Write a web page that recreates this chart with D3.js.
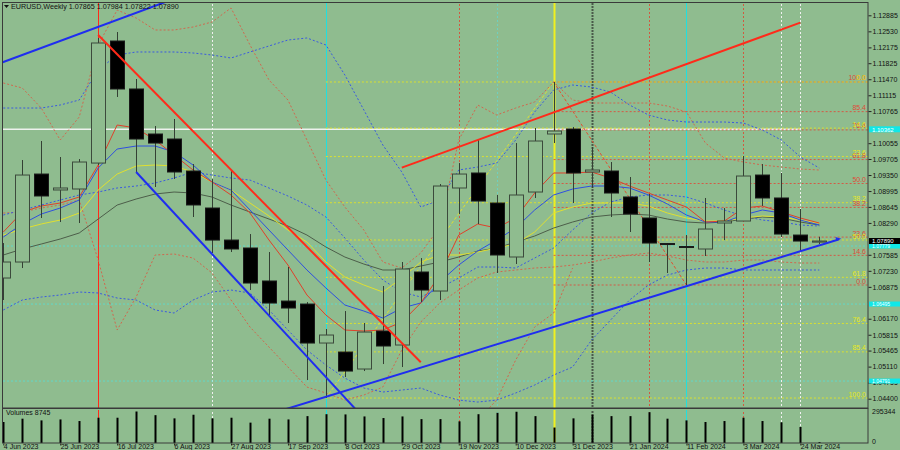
<!DOCTYPE html>
<html><head><meta charset="utf-8">
<script src="https://cdn.jsdelivr.net/npm/d3@7"></script>
<style>body{margin:0;background:#8fbc8f}svg{display:block}text{font-family:"Liberation Sans",Arial,sans-serif}</style>
</head><body><svg id="c" width="900" height="450"></svg>
<script>
const dates=["4 Jun 2023","11 Jun 2023","18 Jun 2023","25 Jun 2023","2 Jul 2023","9 Jul 2023","16 Jul 2023","23 Jul 2023","30 Jul 2023","6 Aug 2023","13 Aug 2023","20 Aug 2023","27 Aug 2023","3 Sep 2023","10 Sep 2023","17 Sep 2023","24 Sep 2023","1 Oct 2023","8 Oct 2023","15 Oct 2023","22 Oct 2023","29 Oct 2023","5 Nov 2023","12 Nov 2023","19 Nov 2023","26 Nov 2023","3 Dec 2023","10 Dec 2023","17 Dec 2023","24 Dec 2023","31 Dec 2023","7 Jan 2024","14 Jan 2024","21 Jan 2024","28 Jan 2024","4 Feb 2024","11 Feb 2024","18 Feb 2024","25 Feb 2024","3 Mar 2024","10 Mar 2024","17 Mar 2024","24 Mar 2024","31 Mar 2024"];
const opens=[1.07071,1.07425,1.09372,1.09019,1.09041,1.09615,1.12316,1.11254,1.10258,1.10147,1.09439,1.08620,1.07911,1.07735,1.07005,1.06561,1.06495,1.05632,1.05433,1.05057,1.05898,1.05588,1.07204,1.06783,1.09063,1.09395,1.08731,1.07536,1.08974,1.10258,1.10369,1.09417,1.09439,1.08864,1.08399,1.07834,1.07768,1.07713,1.08288,1.08332,1.09350,1.08842,1.08022,1.07865];
const highs=[1.07845,1.09682,1.10103,1.09749,1.09704,1.12383,1.12515,1.11475,1.10435,1.10590,1.09593,1.09262,1.09439,1.08044,1.07646,1.07314,1.06539,1.05942,1.06340,1.06075,1.06894,1.07425,1.07513,1.09151,1.09615,1.10147,1.08908,1.10058,1.10391,1.11409,1.10413,1.09970,1.09638,1.09306,1.08930,1.07845,1.08022,1.08842,1.08620,1.09771,1.09593,1.09395,1.08598,1.07984];
const lows=[1.06584,1.07292,1.08399,1.08310,1.08288,1.09572,1.11077,1.09417,1.09085,1.09262,1.08421,1.07624,1.07646,1.06805,1.06252,1.06075,1.04813,1.04415,1.04880,1.05012,1.05167,1.05101,1.06539,1.06584,1.08487,1.08266,1.07182,1.07381,1.08842,1.10058,1.08731,1.09063,1.08421,1.08089,1.07425,1.07182,1.06916,1.07558,1.07911,1.08332,1.08665,1.07978,1.07646,1.07822];
const closes=[1.07425,1.09350,1.08886,1.09063,1.09638,1.12272,1.11254,1.10147,1.10058,1.09417,1.08687,1.07911,1.07713,1.06960,1.06517,1.06407,1.05632,1.05809,1.05012,1.05875,1.05566,1.07270,1.06805,1.09107,1.09372,1.08775,1.07580,1.08908,1.10103,1.10324,1.09395,1.09461,1.08952,1.08487,1.07845,1.07812,1.07757,1.08155,1.08332,1.09328,1.08842,1.08044,1.07889,1.07890];
const volumes=[197000,228000,212000,221000,206000,237000,237000,295344,261000,231000,265000,231000,237000,191000,228000,221000,252000,270000,268000,249000,234000,249000,224000,224000,203000,270000,283000,293000,252000,145000,231000,265000,252000,252000,289000,228000,212000,197000,206000,237000,206000,194000,150000,8745];
// indicator series
const maSlow=[1.07580,1.07712,1.07823,1.07934,1.08067,1.08376,1.08686,1.08819,1.08930,1.08974,1.08952,1.08863,1.08686,1.08531,1.08376,1.08221,1.08022,1.07757,1.07535,1.07380,1.07248,1.07248,1.07336,1.07425,1.07535,1.07668,1.07735,1.07867,1.08000,1.08177,1.08310,1.08421,1.08465,1.08487,1.08465,1.08376,1.08310,1.08288,1.08310,1.08376,1.08421,1.08398,1.08310,1.08244];
const maBlue=[1.07978,1.08266,1.08487,1.08620,1.08797,1.09505,1.09926,1.09992,1.09992,1.09859,1.09572,1.09195,1.09018,1.08576,1.08133,1.07690,1.07248,1.06850,1.06473,1.06340,1.06186,1.06406,1.06518,1.06982,1.07358,1.07668,1.07912,1.08177,1.08576,1.08908,1.09040,1.09107,1.09107,1.09063,1.08908,1.08708,1.08465,1.08310,1.08310,1.08465,1.08576,1.08509,1.08354,1.08244];
const maYellow=[1.08022,1.08155,1.08266,1.08354,1.08509,1.09018,1.09372,1.09549,1.09572,1.09549,1.09417,1.09195,1.09018,1.08731,1.08443,1.08133,1.07867,1.07425,1.07093,1.06916,1.06761,1.07071,1.07425,1.07580,1.07580,1.07646,1.07735,1.07823,1.08089,1.08509,1.08642,1.08731,1.08731,1.08731,1.08664,1.08509,1.08399,1.08332,1.08332,1.08399,1.08443,1.08421,1.08354,1.08288];
const maRed=[1.08089,1.08531,1.08664,1.08731,1.08864,1.09572,1.10457,1.10391,1.10125,1.09793,1.09461,1.09195,1.08908,1.08509,1.07912,1.07358,1.06695,1.06252,1.05920,1.05898,1.05920,1.06097,1.06518,1.07137,1.08022,1.08266,1.08177,1.08399,1.08952,1.09395,1.09395,1.09417,1.09284,1.09107,1.08952,1.08797,1.08642,1.08310,1.08332,1.08620,1.08664,1.08531,1.08399,1.08288];
const bandBlueUp=[1.10833,1.10833,1.10833,1.10900,1.11010,1.11674,1.12006,1.12073,1.12073,1.12073,1.12051,1.12006,1.11940,1.12073,1.12206,1.12338,1.12383,1.12228,1.11564,1.10789,1.10014,1.09417,1.08642,1.08797,1.09461,1.09527,1.09616,1.10125,1.10745,1.11232,1.11342,1.11298,1.11187,1.10900,1.10678,1.10568,1.10523,1.10523,1.10523,1.10501,1.10346,1.10125,1.09749,1.09505];
const bandBlueMid=[1.08465,1.08576,1.08686,1.08797,1.08908,1.08974,1.09063,1.09107,1.09173,1.09284,1.09417,1.09350,1.09284,1.09239,1.09063,1.08886,1.08686,1.08421,1.07956,1.07469,1.07027,1.06761,1.06650,1.06850,1.07071,1.07314,1.07314,1.07292,1.07513,1.07735,1.08133,1.08509,1.08753,1.08864,1.08908,1.08908,1.08864,1.08731,1.08576,1.08443,1.08354,1.08310,1.08244,1.08221];
const bandBlueLow=[1.06363,1.06584,1.06650,1.06695,1.06761,1.06739,1.06628,1.06584,1.06363,1.06296,1.06584,1.06761,1.06805,1.06739,1.06363,1.05920,1.05477,1.05145,1.04857,1.04636,1.04548,1.04592,1.04636,1.04481,1.04370,1.04326,1.04370,1.04526,1.04702,1.04923,1.05101,1.05698,1.06141,1.06584,1.06916,1.07137,1.07248,1.07292,1.07292,1.07248,1.07248,1.07248,1.07248,1.07248];
const bandRedUp=[1.11387,1.11276,1.10833,1.10125,1.10634,1.12228,1.13002,1.12825,1.12560,1.12560,1.12626,1.12737,1.13047,1.12228,1.11453,1.11010,1.10125,1.09239,1.08642,1.08133,1.07425,1.07292,1.07624,1.08199,1.10125,1.10900,1.10678,1.10833,1.10966,1.11409,1.11010,1.10944,1.10944,1.10944,1.10944,1.10877,1.10745,1.10058,1.09727,1.09638,1.09572,1.09527,1.09483,1.09461];
const bandRedLow=[1.08509,1.08531,1.08620,1.08686,1.08797,1.07469,1.05920,1.06650,1.07580,1.07602,1.07513,1.07181,1.06584,1.05986,1.05543,1.05101,1.04658,1.04526,1.04370,1.04481,1.04658,1.05477,1.06097,1.06518,1.06805,1.07071,1.07204,1.07248,1.07292,1.07314,1.07358,1.07425,1.07513,1.07580,1.07624,1.07557,1.07469,1.07425,1.07425,1.07469,1.07469,1.07425,1.07403,1.07403];
const bandRedLow2=[null,null,null,null,null,null,null,null,null,null,null,null,null,null,null,null,null,null,null,null,null,null,null,1.03927,1.03706,1.03927,1.04370,1.05255,1.05986,1.06296,1.07292,null,null,null,null,null,null,null,null,null,null,null,null,null];
// price axis ticks (levels hidden under the level boxes are omitted)
const priceTicks=[1.12885,1.12530,1.12175,1.11825,1.11470,1.11115,1.10765,1.10055,1.09705,1.09350,1.08995,1.08645,1.08290,1.07585,1.07230,1.06875,1.06170,1.05815,1.05465,1.05110,1.04755,1.04400];
const volMax=295344;
// fibonacci
const fibLevels=[0,14.6,23.6,38.2,50.0,61.8,76.4,85.4,100.0];
const fibYellow={from:"1 Oct 2023",hi:1.11409,lo:1.04415,start:"24 Dec 2023"};
const fibRed={from:"24 Dec 2023",hi:1.11409,lo:1.06916,end:"11 Feb 2024"};
// horizontal levels
const cyanLevels=[1.07779,1.06495,1.04791];
const whiteLevel=1.10362;
const whiteLevelEnd="24 Mar 2024";
// trend lines: [date, price] pairs
const tlBlueTop=[["4 Jun 2023",1.11851],["30 Jul 2023",1.13095]];
const tlBlueChan=[["23 Jul 2023",1.09417],["8 Oct 2023",1.04424]];
const tlRedChan=[["9 Jul 2023",1.12449],["5 Nov 2023",1.05207]];
const tlRedUp=[["29 Oct 2023",1.09514],["24 Mar 2024",1.12723]];
const tlBlueUp=[["24 Sep 2023",1.04313],["31 Mar 2024",1.07792]];
// vertical markers
const vRedSolid=["9 Jul 2023"];
const vWhiteDot=["20 Aug 2023","17 Mar 2024","24 Mar 2024"];
const vCyan=["1 Oct 2023","11 Feb 2024"];
const vRedDot=["19 Nov 2023","28 Jan 2024","3 Mar 2024"];
const vYellow=["24 Dec 2023"];
const vGrayDot=["7 Jan 2024"];
const vFaintCyan=["3 Dec 2023"];
const header="EURUSD,Weekly  1.07865 1.07984 1.07822 1.07890";
const volLabel="Volumes 8745";

const svg=d3.select("#c");
const AX=868, TOP=3, MB=408, VT=410, VB=443;
svg.append("rect").attr("width",900).attr("height",450).attr("fill","#8fbc8f");
const xi=d3.scaleLinear().domain([0,dates.length-1]).range([3.3,819.3]);
const xd=d=>xi(dates.indexOf(d));
const y=d3.scaleLinear().domain([1.12885,1.04400]).range([15.3,398.7]);
const yv=d3.scaleLinear().domain([0,volMax]).range([VB,411.5]);
const defs=svg.append("defs");
defs.append("clipPath").attr("id","cm").append("rect").attr("x",3).attr("y",TOP).attr("width",AX-3).attr("height",MB-TOP);
defs.append("clipPath").attr("id","cv").append("rect").attr("x",3).attr("y",VT).attr("width",AX-3).attr("height",VB-VT);
const gm=svg.append("g").attr("clip-path","url(#cm)");
const gv=svg.append("g").attr("clip-path","url(#cv)");

function vlines(arr,color,dash,w){
  [gm,gv].forEach(g=>g.selectAll(null).data(arr).enter().append("line")
    .attr("x1",d=>Math.round(xd(d))+0.5).attr("x2",d=>Math.round(xd(d))+0.5).attr("y1",0).attr("y2",450)
    .attr("stroke",color).attr("stroke-width",w).attr("stroke-dasharray",dash));
}
vlines(vWhiteDot,"#f0f0f0","2,2",1);
vlines(vRedDot,"#d05a40","2,2",1);
vlines(vGrayDot,"#4a5a4a","2,1",2);
vlines(vFaintCyan,"#6fd0c0","2,2",1);
vlines(vCyan,"#20e0e0",null,1);
vlines(vRedSolid,"#ff2a1a",null,1);
vlines(vYellow,"#f0f020",null,2);

gm.selectAll(null).data(cyanLevels).enter().append("line")
  .attr("x1",3).attr("x2",AX).attr("y1",d=>y(d)).attr("y2",d=>y(d))
  .attr("stroke","#60d8c8").attr("stroke-dasharray","2,2");
gm.append("line").attr("x1",3).attr("x2",xd(whiteLevelEnd)).attr("y1",y(whiteLevel)).attr("y2",y(whiteLevel))
  .attr("stroke","#eef2ee").attr("stroke-width",1.5);

function fib(f,color,fromHi){
  const x0=xd(f.from);
  fibLevels.forEach(l=>{
    const p=fromHi? f.hi-(f.hi-f.lo)*l/100 : f.lo+(f.hi-f.lo)*l/100;
    gm.append("line").attr("x1",x0).attr("x2",AX).attr("y1",y(p)).attr("y2",y(p))
      .attr("stroke",color).attr("stroke-dasharray","2,2").attr("opacity",0.85);
    svg.append("text").attr("x",866).attr("y",y(p)-1.5).attr("text-anchor","end")
      .attr("font-size",7).attr("fill",color).text(l.toFixed(1));
  });
}
fib(fibRed,"#e04a3a",false);
fib(fibYellow,"#e8e820",true);
gm.append("line").attr("x1",xd(fibYellow.from)).attr("y1",y(fibYellow.lo)).attr("x2",xd(fibYellow.start)).attr("y2",y(fibYellow.hi))
  .attr("stroke","#e0e030").attr("stroke-dasharray","3,2");
gm.append("line").attr("x1",xd(fibRed.from)).attr("y1",y(fibRed.hi)).attr("x2",xd(fibRed.end)).attr("y2",y(fibRed.lo))
  .attr("stroke","#e05030").attr("stroke-dasharray","3,2");

const ln=d3.line().defined(d=>d!==null).x((d,i)=>xi(i)).y(d=>y(d));
function series(arr,color,dash,w){
  gm.append("path").attr("d",ln(arr)).attr("fill","none").attr("stroke",color)
    .attr("stroke-width",w||1).attr("stroke-dasharray",dash);
}
series(bandRedUp,"#d0684e","2,2");
series(bandRedLow,"#d0684e","2,2");
series(bandRedLow2,"#d0684e","2,2");
series(bandBlueUp,"#3a5ae0","2,2");
series(bandBlueMid,"#3a5ae0","2,2");
series(bandBlueLow,"#3a5ae0","2,2");
series(maSlow,"#4d5e4a",null);
series(maYellow,"#e0e030",null);
series(maBlue,"#2f4fe0",null);
series(maRed,"#e0402a",null);

const bw=14;
const cg=gm.append("g");
cg.selectAll("line.w").data(dates).enter().append("line")
  .attr("x1",(d,i)=>Math.round(xi(i))+0.5).attr("x2",(d,i)=>Math.round(xi(i))+0.5)
  .attr("y1",(d,i)=>y(highs[i])).attr("y2",(d,i)=>y(lows[i]))
  .attr("stroke","#344034");
cg.selectAll("rect.b").data(dates).enter().append("rect")
  .attr("x",(d,i)=>Math.round(xi(i))-bw/2+0.5)
  .attr("y",(d,i)=>y(Math.max(opens[i],closes[i])))
  .attr("width",bw)
  .attr("height",(d,i)=>Math.max(1,Math.abs(y(opens[i])-y(closes[i]))))
  .attr("fill",(d,i)=>closes[i]<opens[i]?"#000":"#8fbc8f")
  .attr("stroke",(d,i)=>closes[i]<opens[i]?"#1a1a1a":"#3c4a3c");

function tline(pts,color,w,extL,extR,xEnd){
  const x1=xd(pts[0][0]),y1=y(pts[0][1]),x2=xd(pts[1][0]),y2=y(pts[1][1]);
  const s=(y2-y1)/(x2-x1);
  const xa=extL?0:x1, xb=xEnd!==undefined?xEnd:(extR?900:x2);
  gm.append("line").attr("x1",xa).attr("y1",y1+s*(xa-x1)).attr("x2",xb).attr("y2",y1+s*(xb-x1))
    .attr("stroke",color).attr("stroke-width",w);
  return [xb,y1+s*(xb-x1)];
}
tline(tlBlueTop,"#1f2df0",2,true,true);
tline(tlBlueChan,"#1f2df0",2,false,true);
tline(tlRedChan,"#ff2a1a",2,false,false);
tline(tlRedUp,"#ff2a1a",2,false,false);
const endB=tline(tlBlueUp,"#1f2df0",2,true,false,xd(tlBlueUp[1][0])+20);
gm.append("path").attr("d",`M${endB[0]+2},${endB[1]-0.6} l-6,-1.8 l1.2,3.8 z`).attr("fill","#1f2df0");

gv.selectAll(null).data(volumes).enter().append("line")
  .attr("x1",(d,i)=>Math.round(xi(i))+0.5).attr("x2",(d,i)=>Math.round(xi(i))+0.5)
  .attr("y1",VB).attr("y2",d=>yv(d)).attr("stroke","#000").attr("stroke-width",2);

svg.append("rect").attr("x",2.5).attr("y",2.5).attr("width",AX-2.5).attr("height",MB-2.5).attr("fill","none").attr("stroke","#3a3a3a");
svg.append("rect").attr("x",2.5).attr("y",VT-1.5).attr("width",AX-2.5).attr("height",VB-VT+1.5).attr("fill","none").attr("stroke","#3a3a3a");

const ax=d3.axisRight(y).tickValues(priceTicks).tickFormat(d3.format(".5f")).tickSize(3).tickPadding(1);
const ga=svg.append("g").attr("transform",`translate(${AX+0.5},0)`).call(ax);
ga.select(".domain").remove();
ga.selectAll("line").attr("stroke","#222");
ga.selectAll("text").attr("font-size",7).attr("fill","#111").attr("font-family","Liberation Sans");
function box(p,bg,fg,h){
  const yy=y(p);
  svg.append("rect").attr("x",AX+1).attr("y",yy-h/2).attr("width",900-AX).attr("height",h).attr("fill",bg);
  svg.append("text").attr("x",AX+4).attr("y",yy+h/2-0.8).attr("font-size",h).attr("fill",fg).text(d3.format(".5f")(p));
}
box(whiteLevel,"#10e8e8","#ffffff",6);
cyanLevels.forEach(p=>box(p,"#10e8e8","#ffffff",5));
box(closes[closes.length-1],"#000000","#ffffff",6);

svg.append("text").attr("x",AX+4).attr("y",414).attr("font-size",7).attr("fill","#111").text(String(volMax));
svg.append("text").attr("x",AX+4).attr("y",444).attr("font-size",7).attr("fill","#111").text("0");
svg.append("text").attr("x",6).attr("y",415).attr("font-size",7).attr("fill","#111").text(volLabel);

const xa=d3.axisBottom(xi).tickValues(d3.range(0,dates.length,3)).tickFormat(i=>dates[i]).tickSize(2).tickPadding(0);
const gx=svg.append("g").attr("transform",`translate(0,${VB+0.5})`).call(xa);
gx.select(".domain").remove();
gx.selectAll("line").attr("stroke","#222");
gx.selectAll("text").attr("font-size",7).attr("fill","#111").attr("text-anchor","start").attr("dy",0).attr("y",5).attr("font-family","Liberation Sans");

svg.append("path").attr("d","M4,5 L9,5 L6.5,8 Z").attr("fill","#111");
svg.append("text").attr("x",11).attr("y",9).attr("font-size",7.2).attr("fill","#111").text(header);
</script></body></html>
